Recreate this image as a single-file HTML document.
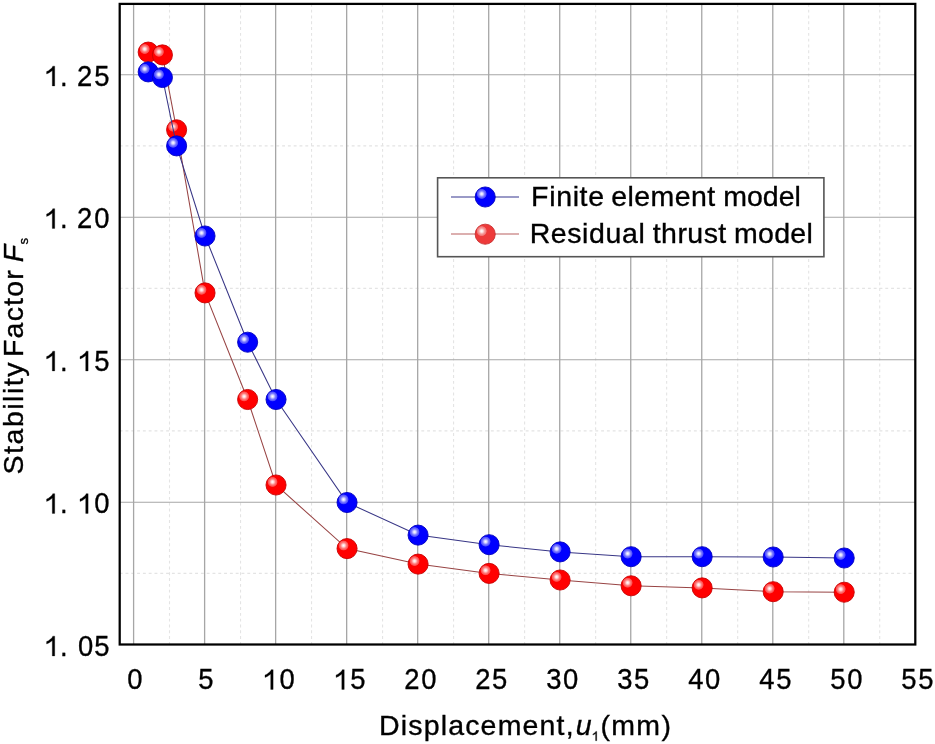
<!DOCTYPE html><html><head><meta charset="utf-8"><style>html,body{margin:0;padding:0;background:#fff;width:935px;height:744px;overflow:hidden}svg{display:block;filter:blur(0.4px)}text{font-family:"Liberation Sans",sans-serif;fill:#000;stroke:#000;stroke-width:0.35px;white-space:pre}</style></head><body>
<svg width="935" height="744" viewBox="0 0 935 744">
<defs>
<radialGradient id="hl" cx="0.5" cy="0.5" r="0.5">
<stop offset="0" stop-color="#fff" stop-opacity="1"/><stop offset="0.25" stop-color="#fff" stop-opacity="0.85"/><stop offset="0.55" stop-color="#fff" stop-opacity="0.5"/><stop offset="0.85" stop-color="#fff" stop-opacity="0.3"/><stop offset="1" stop-color="#fff" stop-opacity="0"/></radialGradient>
</defs>
<line x1="169.51" y1="3.9" x2="169.51" y2="644.5" stroke="#e4e4e4" stroke-width="1.1" stroke-dasharray="2.9 2.9"/>
<line x1="240.53" y1="3.9" x2="240.53" y2="644.5" stroke="#e4e4e4" stroke-width="1.1" stroke-dasharray="2.9 2.9"/>
<line x1="311.55" y1="3.9" x2="311.55" y2="644.5" stroke="#e4e4e4" stroke-width="1.1" stroke-dasharray="2.9 2.9"/>
<line x1="382.57" y1="3.9" x2="382.57" y2="644.5" stroke="#e4e4e4" stroke-width="1.1" stroke-dasharray="2.9 2.9"/>
<line x1="453.59" y1="3.9" x2="453.59" y2="644.5" stroke="#e4e4e4" stroke-width="1.1" stroke-dasharray="2.9 2.9"/>
<line x1="524.61" y1="3.9" x2="524.61" y2="644.5" stroke="#e4e4e4" stroke-width="1.1" stroke-dasharray="2.9 2.9"/>
<line x1="595.63" y1="3.9" x2="595.63" y2="644.5" stroke="#e4e4e4" stroke-width="1.1" stroke-dasharray="2.9 2.9"/>
<line x1="666.65" y1="3.9" x2="666.65" y2="644.5" stroke="#e4e4e4" stroke-width="1.1" stroke-dasharray="2.9 2.9"/>
<line x1="737.67" y1="3.9" x2="737.67" y2="644.5" stroke="#e4e4e4" stroke-width="1.1" stroke-dasharray="2.9 2.9"/>
<line x1="808.69" y1="3.9" x2="808.69" y2="644.5" stroke="#e4e4e4" stroke-width="1.1" stroke-dasharray="2.9 2.9"/>
<line x1="879.71" y1="3.9" x2="879.71" y2="644.5" stroke="#e4e4e4" stroke-width="1.1" stroke-dasharray="2.9 2.9"/>
<line x1="119.7" y1="573.35" x2="915.3" y2="573.35" stroke="#e4e4e4" stroke-width="1.1" stroke-dasharray="2.9 2.9"/>
<line x1="119.7" y1="430.85" x2="915.3" y2="430.85" stroke="#e4e4e4" stroke-width="1.1" stroke-dasharray="2.9 2.9"/>
<line x1="119.7" y1="288.35" x2="915.3" y2="288.35" stroke="#e4e4e4" stroke-width="1.1" stroke-dasharray="2.9 2.9"/>
<line x1="119.7" y1="145.85" x2="915.3" y2="145.85" stroke="#e4e4e4" stroke-width="1.1" stroke-dasharray="2.9 2.9"/>
<line x1="133.60" y1="3.9" x2="133.60" y2="644.5" stroke="#a6a6a6" stroke-width="1.3"/>
<line x1="204.62" y1="3.9" x2="204.62" y2="644.5" stroke="#a6a6a6" stroke-width="1.3"/>
<line x1="275.64" y1="3.9" x2="275.64" y2="644.5" stroke="#a6a6a6" stroke-width="1.3"/>
<line x1="346.66" y1="3.9" x2="346.66" y2="644.5" stroke="#a6a6a6" stroke-width="1.3"/>
<line x1="417.68" y1="3.9" x2="417.68" y2="644.5" stroke="#a6a6a6" stroke-width="1.3"/>
<line x1="488.70" y1="3.9" x2="488.70" y2="644.5" stroke="#a6a6a6" stroke-width="1.3"/>
<line x1="559.72" y1="3.9" x2="559.72" y2="644.5" stroke="#a6a6a6" stroke-width="1.3"/>
<line x1="630.74" y1="3.9" x2="630.74" y2="644.5" stroke="#a6a6a6" stroke-width="1.3"/>
<line x1="701.76" y1="3.9" x2="701.76" y2="644.5" stroke="#a6a6a6" stroke-width="1.3"/>
<line x1="772.78" y1="3.9" x2="772.78" y2="644.5" stroke="#a6a6a6" stroke-width="1.3"/>
<line x1="843.80" y1="3.9" x2="843.80" y2="644.5" stroke="#a6a6a6" stroke-width="1.3"/>
<line x1="119.7" y1="502.25" x2="915.3" y2="502.25" stroke="#a6a6a6" stroke-width="1.2"/>
<line x1="119.7" y1="359.75" x2="915.3" y2="359.75" stroke="#a6a6a6" stroke-width="1.2"/>
<line x1="119.7" y1="217.25" x2="915.3" y2="217.25" stroke="#a6a6a6" stroke-width="1.2"/>
<line x1="119.7" y1="74.75" x2="915.3" y2="74.75" stroke="#a6a6a6" stroke-width="1.2"/>
<rect x="119.7" y="3.9" width="795.60" height="640.60" fill="none" stroke="#000" stroke-width="2.25"/>
<polyline points="148.20,52.10 162.41,54.90 176.61,129.80 205.02,292.90 247.63,399.50 276.04,485.00 347.06,548.60 418.08,564.10 489.10,573.40 560.12,580.00 631.14,585.80 702.16,587.90 773.18,591.70 844.20,592.20" fill="none" stroke="#984444" stroke-width="1.05"/>
<circle cx="148.20" cy="52.10" r="10.05" fill="#ff0000" stroke="#c80000" stroke-width="0.9"/><circle cx="144.70" cy="49.00" r="5.3" fill="url(#hl)"/>
<circle cx="162.41" cy="54.90" r="10.05" fill="#ff0000" stroke="#c80000" stroke-width="0.9"/><circle cx="158.91" cy="51.80" r="5.3" fill="url(#hl)"/>
<circle cx="176.61" cy="129.80" r="10.05" fill="#ff0000" stroke="#c80000" stroke-width="0.9"/><circle cx="173.11" cy="126.70" r="5.3" fill="url(#hl)"/>
<circle cx="205.02" cy="292.90" r="10.05" fill="#ff0000" stroke="#c80000" stroke-width="0.9"/><circle cx="201.52" cy="289.80" r="5.3" fill="url(#hl)"/>
<circle cx="247.63" cy="399.50" r="10.05" fill="#ff0000" stroke="#c80000" stroke-width="0.9"/><circle cx="244.13" cy="396.40" r="5.3" fill="url(#hl)"/>
<circle cx="276.04" cy="485.00" r="10.05" fill="#ff0000" stroke="#c80000" stroke-width="0.9"/><circle cx="272.54" cy="481.90" r="5.3" fill="url(#hl)"/>
<circle cx="347.06" cy="548.60" r="10.05" fill="#ff0000" stroke="#c80000" stroke-width="0.9"/><circle cx="343.56" cy="545.50" r="5.3" fill="url(#hl)"/>
<circle cx="418.08" cy="564.10" r="10.05" fill="#ff0000" stroke="#c80000" stroke-width="0.9"/><circle cx="414.58" cy="561.00" r="5.3" fill="url(#hl)"/>
<circle cx="489.10" cy="573.40" r="10.05" fill="#ff0000" stroke="#c80000" stroke-width="0.9"/><circle cx="485.60" cy="570.30" r="5.3" fill="url(#hl)"/>
<circle cx="560.12" cy="580.00" r="10.05" fill="#ff0000" stroke="#c80000" stroke-width="0.9"/><circle cx="556.62" cy="576.90" r="5.3" fill="url(#hl)"/>
<circle cx="631.14" cy="585.80" r="10.05" fill="#ff0000" stroke="#c80000" stroke-width="0.9"/><circle cx="627.64" cy="582.70" r="5.3" fill="url(#hl)"/>
<circle cx="702.16" cy="587.90" r="10.05" fill="#ff0000" stroke="#c80000" stroke-width="0.9"/><circle cx="698.66" cy="584.80" r="5.3" fill="url(#hl)"/>
<circle cx="773.18" cy="591.70" r="10.05" fill="#ff0000" stroke="#c80000" stroke-width="0.9"/><circle cx="769.68" cy="588.60" r="5.3" fill="url(#hl)"/>
<circle cx="844.20" cy="592.20" r="10.05" fill="#ff0000" stroke="#c80000" stroke-width="0.9"/><circle cx="840.70" cy="589.10" r="5.3" fill="url(#hl)"/>
<polyline points="148.20,71.90 162.41,77.50 176.61,145.90 205.02,236.00 247.63,342.20 276.04,399.50 347.06,502.50 418.08,535.10 489.10,544.70 560.12,551.90 631.14,556.70 702.16,556.70 773.18,557.00 844.20,558.00" fill="none" stroke="#383686" stroke-width="1.05"/>
<circle cx="148.20" cy="71.90" r="10.05" fill="#0000ff" stroke="#0000c0" stroke-width="0.9"/><circle cx="144.70" cy="68.80" r="5.3" fill="url(#hl)"/>
<circle cx="162.41" cy="77.50" r="10.05" fill="#0000ff" stroke="#0000c0" stroke-width="0.9"/><circle cx="158.91" cy="74.40" r="5.3" fill="url(#hl)"/>
<circle cx="176.61" cy="145.90" r="10.05" fill="#0000ff" stroke="#0000c0" stroke-width="0.9"/><circle cx="173.11" cy="142.80" r="5.3" fill="url(#hl)"/>
<circle cx="205.02" cy="236.00" r="10.05" fill="#0000ff" stroke="#0000c0" stroke-width="0.9"/><circle cx="201.52" cy="232.90" r="5.3" fill="url(#hl)"/>
<circle cx="247.63" cy="342.20" r="10.05" fill="#0000ff" stroke="#0000c0" stroke-width="0.9"/><circle cx="244.13" cy="339.10" r="5.3" fill="url(#hl)"/>
<circle cx="276.04" cy="399.50" r="10.05" fill="#0000ff" stroke="#0000c0" stroke-width="0.9"/><circle cx="272.54" cy="396.40" r="5.3" fill="url(#hl)"/>
<circle cx="347.06" cy="502.50" r="10.05" fill="#0000ff" stroke="#0000c0" stroke-width="0.9"/><circle cx="343.56" cy="499.40" r="5.3" fill="url(#hl)"/>
<circle cx="418.08" cy="535.10" r="10.05" fill="#0000ff" stroke="#0000c0" stroke-width="0.9"/><circle cx="414.58" cy="532.00" r="5.3" fill="url(#hl)"/>
<circle cx="489.10" cy="544.70" r="10.05" fill="#0000ff" stroke="#0000c0" stroke-width="0.9"/><circle cx="485.60" cy="541.60" r="5.3" fill="url(#hl)"/>
<circle cx="560.12" cy="551.90" r="10.05" fill="#0000ff" stroke="#0000c0" stroke-width="0.9"/><circle cx="556.62" cy="548.80" r="5.3" fill="url(#hl)"/>
<circle cx="631.14" cy="556.70" r="10.05" fill="#0000ff" stroke="#0000c0" stroke-width="0.9"/><circle cx="627.64" cy="553.60" r="5.3" fill="url(#hl)"/>
<circle cx="702.16" cy="556.70" r="10.05" fill="#0000ff" stroke="#0000c0" stroke-width="0.9"/><circle cx="698.66" cy="553.60" r="5.3" fill="url(#hl)"/>
<circle cx="773.18" cy="557.00" r="10.05" fill="#0000ff" stroke="#0000c0" stroke-width="0.9"/><circle cx="769.68" cy="553.90" r="5.3" fill="url(#hl)"/>
<circle cx="844.20" cy="558.00" r="10.05" fill="#0000ff" stroke="#0000c0" stroke-width="0.9"/><circle cx="840.70" cy="554.90" r="5.3" fill="url(#hl)"/>
<text transform="translate(127.13,689.4) scale(0.945,1)" font-size="29.0">0</text>
<text transform="translate(198.26,689.4) scale(0.945,1)" font-size="29.0">5</text>
<path d="M273.13,689.40 L270.70,689.40 L270.70,673.94 L269.82,674.78 L268.67,675.61 L267.32,676.45 L266.08,677.03 L265.00,677.42 L265.00,675.07 L266.91,674.17 L268.29,673.11 L269.66,672.04 L270.71,670.84 L271.15,669.64 L273.13,669.64Z" fill="#000" stroke="#000" stroke-width="0.3" stroke-linejoin="round"/>
<text transform="translate(279.43,689.4) scale(0.945,1)" font-size="29.0">0</text>
<path d="M344.23,689.40 L341.80,689.40 L341.80,673.94 L340.92,674.78 L339.77,675.61 L338.42,676.45 L337.18,677.03 L336.10,677.42 L336.10,675.07 L338.01,674.17 L339.39,673.11 L340.76,672.04 L341.81,670.84 L342.25,669.64 L344.23,669.64Z" fill="#000" stroke="#000" stroke-width="0.3" stroke-linejoin="round"/>
<text transform="translate(350.26,689.4) scale(0.945,1)" font-size="29.0">5</text>
<text transform="translate(404.18,689.4) scale(0.945,1)" font-size="29.0">2</text>
<text transform="translate(421.13,689.4) scale(0.945,1)" font-size="29.0">0</text>
<text transform="translate(475.13,689.4) scale(0.945,1)" font-size="29.0">2</text>
<text transform="translate(492.06,689.4) scale(0.945,1)" font-size="29.0">5</text>
<text transform="translate(546.23,689.4) scale(0.945,1)" font-size="29.0">3</text>
<text transform="translate(563.05,689.4) scale(0.945,1)" font-size="29.0">0</text>
<text transform="translate(617.25,689.4) scale(0.945,1)" font-size="29.0">3</text>
<text transform="translate(634.10,689.4) scale(0.945,1)" font-size="29.0">5</text>
<text transform="translate(688.28,689.4) scale(0.945,1)" font-size="29.0">4</text>
<text transform="translate(705.09,689.4) scale(0.945,1)" font-size="29.0">0</text>
<text transform="translate(759.30,689.4) scale(0.945,1)" font-size="29.0">4</text>
<text transform="translate(776.14,689.4) scale(0.945,1)" font-size="29.0">5</text>
<text transform="translate(830.26,689.4) scale(0.945,1)" font-size="29.0">5</text>
<text transform="translate(847.13,689.4) scale(0.945,1)" font-size="29.0">0</text>
<text transform="translate(901.28,689.4) scale(0.945,1)" font-size="29.0">5</text>
<text transform="translate(918.18,689.4) scale(0.945,1)" font-size="29.0">5</text>
<path d="M54.73,85.90 L52.30,85.90 L52.30,70.44 L51.42,71.28 L50.27,72.11 L48.92,72.95 L47.68,73.53 L46.60,73.92 L46.60,71.57 L48.51,70.67 L49.89,69.61 L51.26,68.54 L52.31,67.34 L52.75,66.14 L54.73,66.14Z" fill="#000" stroke="#000" stroke-width="0.3" stroke-linejoin="round"/>
<text transform="translate(60.10,85.9) scale(0.945,1)" font-size="29.0">.</text>
<text transform="translate(77.02,85.9) scale(0.945,1)" font-size="29.0">2</text>
<text transform="translate(94.21,85.9) scale(0.945,1)" font-size="29.0">5</text>
<path d="M54.73,228.40 L52.30,228.40 L52.30,212.94 L51.42,213.78 L50.27,214.61 L48.92,215.45 L47.68,216.03 L46.60,216.42 L46.60,214.07 L48.51,213.17 L49.89,212.11 L51.26,211.04 L52.31,209.84 L52.75,208.64 L54.73,208.64Z" fill="#000" stroke="#000" stroke-width="0.3" stroke-linejoin="round"/>
<text transform="translate(60.10,228.4) scale(0.945,1)" font-size="29.0">.</text>
<text transform="translate(77.02,228.4) scale(0.945,1)" font-size="29.0">2</text>
<text transform="translate(94.13,228.4) scale(0.945,1)" font-size="29.0">0</text>
<path d="M54.73,370.90 L52.30,370.90 L52.30,355.44 L51.42,356.28 L50.27,357.11 L48.92,357.95 L47.68,358.53 L46.60,358.92 L46.60,356.57 L48.51,355.67 L49.89,354.61 L51.26,353.54 L52.31,352.34 L52.75,351.14 L54.73,351.14Z" fill="#000" stroke="#000" stroke-width="0.3" stroke-linejoin="round"/>
<text transform="translate(60.10,370.9) scale(0.945,1)" font-size="29.0">.</text>
<path d="M88.13,370.90 L85.70,370.90 L85.70,355.44 L84.82,356.28 L83.67,357.11 L82.32,357.95 L81.08,358.53 L80.00,358.92 L80.00,356.57 L81.91,355.67 L83.29,354.61 L84.66,353.54 L85.71,352.34 L86.15,351.14 L88.13,351.14Z" fill="#000" stroke="#000" stroke-width="0.3" stroke-linejoin="round"/>
<text transform="translate(94.21,370.9) scale(0.945,1)" font-size="29.0">5</text>
<path d="M54.73,513.40 L52.30,513.40 L52.30,497.94 L51.42,498.78 L50.27,499.61 L48.92,500.45 L47.68,501.03 L46.60,501.42 L46.60,499.07 L48.51,498.17 L49.89,497.11 L51.26,496.04 L52.31,494.84 L52.75,493.64 L54.73,493.64Z" fill="#000" stroke="#000" stroke-width="0.3" stroke-linejoin="round"/>
<text transform="translate(60.10,513.4) scale(0.945,1)" font-size="29.0">.</text>
<path d="M88.13,513.40 L85.70,513.40 L85.70,497.94 L84.82,498.78 L83.67,499.61 L82.32,500.45 L81.08,501.03 L80.00,501.42 L80.00,499.07 L81.91,498.17 L83.29,497.11 L84.66,496.04 L85.71,494.84 L86.15,493.64 L88.13,493.64Z" fill="#000" stroke="#000" stroke-width="0.3" stroke-linejoin="round"/>
<text transform="translate(94.13,513.4) scale(0.945,1)" font-size="29.0">0</text>
<path d="M54.73,655.90 L52.30,655.90 L52.30,640.44 L51.42,641.28 L50.27,642.11 L48.92,642.95 L47.68,643.53 L46.60,643.92 L46.60,641.57 L48.51,640.67 L49.89,639.61 L51.26,638.54 L52.31,637.34 L52.75,636.14 L54.73,636.14Z" fill="#000" stroke="#000" stroke-width="0.3" stroke-linejoin="round"/>
<text transform="translate(60.10,655.9) scale(0.945,1)" font-size="29.0">.</text>
<text transform="translate(77.93,655.9) scale(0.945,1)" font-size="29.0">0</text>
<text transform="translate(94.21,655.9) scale(0.945,1)" font-size="29.0">5</text>
<rect x="437.6" y="177.8" width="386.3" height="78.9" fill="#fff" stroke="#555" stroke-width="1.6"/>
<line x1="451" y1="196.9" x2="519" y2="196.9" stroke="#7878b4" stroke-width="1.5"/>
<line x1="451" y1="234.1" x2="519" y2="234.1" stroke="#d09494" stroke-width="1.5"/>
<circle cx="485.20" cy="197.00" r="10.05" fill="#0000ff" stroke="#0000c0" stroke-width="0.9"/><circle cx="481.70" cy="193.90" r="5.3" fill="url(#hl)"/>
<circle cx="485.20" cy="234.20" r="10.05" fill="#ee3a3a" stroke="#c83030" stroke-width="0.9"/><circle cx="481.70" cy="231.10" r="5.3" fill="url(#hl)"/>
<text x="531.11" y="206" font-size="28.5" textLength="72.93" lengthAdjust="spacing">Finite</text>
<text x="611.22" y="206" font-size="28.5" textLength="104.02" lengthAdjust="spacing">element</text>
<text x="723.22" y="206" font-size="28.5" textLength="77.65" lengthAdjust="spacing">model</text>
<text x="529.63" y="242.7" font-size="28.5" textLength="115.10" lengthAdjust="spacing">Residual</text>
<text x="652.71" y="242.7" font-size="28.5" textLength="73.54" lengthAdjust="spacing">thrust</text>
<text x="734.00" y="242.7" font-size="28.5" textLength="78.80" lengthAdjust="spacing">model</text>
<text x="379.04" y="735.3" font-size="28.5" textLength="194.53" lengthAdjust="spacing">Displacement,</text>
<text x="575.79" y="735.3" font-size="28.5" font-style="italic" textLength="14.25" lengthAdjust="spacing">u</text>
<path d="M596.73,740.70 L595.59,740.70 L595.59,733.42 L595.17,733.81 L594.63,734.21 L593.99,734.60 L593.41,734.87 L592.90,735.06 L592.90,733.95 L593.80,733.53 L594.45,733.03 L595.10,732.52 L595.59,731.96 L595.79,731.39 L596.73,731.39Z" fill="#000" stroke="#000" stroke-width="0.3" stroke-linejoin="round"/>
<text x="600.55" y="735.3" font-size="28.5" textLength="70.36" lengthAdjust="spacing">(mm)</text>
<g transform="rotate(-90)"><text x="-474.40" y="22.5" font-size="28.5" textLength="111.89" lengthAdjust="spacing">Stability</text><text x="-357.05" y="22.5" font-size="28.5" textLength="86.81" lengthAdjust="spacing">Factor</text><text x="-262.24" y="22.5" font-size="28.5" font-style="italic" textLength="14.71" lengthAdjust="spacing">F</text><text x="-244.48" y="28.2" font-size="13">s</text></g>
</svg></body></html>
